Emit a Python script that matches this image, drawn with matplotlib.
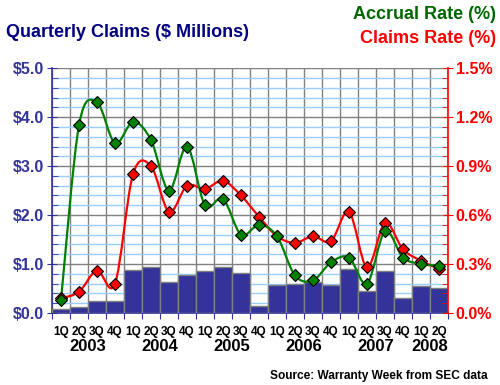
import matplotlib
matplotlib.use("Agg")
import matplotlib.pyplot as plt
from matplotlib.path import Path
from matplotlib.patches import PathPatch
import numpy as np

quarters = ["1Q", "2Q", "3Q", "4Q"] * 5 + ["1Q", "2Q"]
years = ["2003", "2004", "2005", "2006", "2007", "2008"]
year_pos = [1.5, 5.5, 9.5, 13.5, 17.5, 20.5]

# quarterly claims, $ millions
claims = [0.08, 0.12, 0.24, 0.24, 0.87, 0.93, 0.63, 0.77, 0.85, 0.93, 0.81,
          0.14, 0.57, 0.59, 0.63, 0.57, 0.89, 0.45, 0.86, 0.31, 0.55, 0.52]
# rates, percent
accrual_rate = [0.08, 1.15, 1.29, 1.04, 1.17, 1.06, 0.75, 1.02, 0.66, 0.70, 0.48,
                0.54, 0.47, 0.23, 0.20, 0.31, 0.34, 0.18, 0.50, 0.34, 0.30, 0.29]
claims_rate = [0.09, 0.13, 0.26, 0.18, 0.85, 0.90, 0.62, 0.78, 0.76, 0.81, 0.72,
               0.59, 0.47, 0.43, 0.47, 0.44, 0.62, 0.28, 0.55, 0.39, 0.32, 0.27]

NAVY = "#333399"
GREEN = "#008000"
RED = "#FF0000"

plt.rcParams['font.family'] = 'Liberation Sans'
plt.rcParams['font.weight'] = 'bold'


def smooth_path(xs, ys):
    # bezier curve through the points, like a spreadsheet "smoothed line"
    pts = np.column_stack([xs, ys]).astype(float)
    n = len(pts)
    verts = [pts[0]]
    codes = [Path.MOVETO]
    for i in range(n - 1):
        p0 = pts[i - 1] if i > 0 else pts[i]
        p1 = pts[i]
        p2 = pts[i + 1]
        p3 = pts[i + 2] if i + 2 < n else pts[i + 1]
        c1 = p1 + (p2 - p0) / 6.0
        c2 = p2 - (p3 - p1) / 6.0
        verts += [c1, c2, p2]
        codes += [Path.CURVE4] * 3
    return Path(verts, codes)


fig = plt.figure(figsize=(5, 3.85), dpi=100)
ax = fig.add_axes([0.104, 0.187, 0.792, 0.636])
ax2 = ax.twinx()

x = np.arange(len(claims))
ax.bar(x, claims, width=1.0, color=NAVY, edgecolor="#808080", linewidth=1, zorder=3)

ax.set_xlim(-0.5, len(claims) - 0.5)
ax.set_ylim(0, 5)
ax.set_yticks(np.arange(0, 5.01, 1))
ax.set_yticks(np.arange(0, 5.01, 0.2), minor=True)
ax.set_yticklabels(["$%.1f" % v for v in np.arange(0, 5.01, 1)])
ax.set_xticks(np.arange(-0.5, len(claims), 1))
ax.set_xticklabels([])
ax.grid(True, which="minor", axis="y", color="#99CCFF", linewidth=1, zorder=0)
ax.grid(True, which="major", axis="y", color="#808080", linewidth=1, zorder=1)
ax.grid(True, which="major", axis="x", color="#808080", linewidth=1, zorder=1)
ax.set_axisbelow(True)

ax.tick_params(axis="y", which="major", direction="inout", length=7, color=NAVY,
               labelcolor=NAVY, labelsize=11.5, pad=2)
ax.tick_params(axis="y", which="minor", direction="in", length=4, color=NAVY)
ax.tick_params(axis="x", direction="out", length=4, color=NAVY)

for s in ["top", "right"]:
    ax.spines[s].set_visible(False)
ax.spines["left"].set_color(NAVY)
ax.spines["bottom"].set_color(NAVY)
ax.spines["left"].set_linewidth(1.2)
ax.spines["bottom"].set_linewidth(1.2)

for i, q in enumerate(quarters):
    ax.text(i, -0.26, q, ha="center", va="top", fontsize=8.5, fontweight="bold")
for yp, yl in zip(year_pos, years):
    ax.text(yp, -0.54, yl, ha="center", va="top", fontsize=12, fontweight="bold")

# rates on the right axis
ax2.set_ylim(0, 1.5)
ax2.set_yticks(np.arange(0, 1.51, 0.3))
ax2.set_yticks(np.arange(0, 1.51, 0.06), minor=True)
ax2.set_yticklabels(["%.1f%%" % v for v in np.arange(0, 1.51, 0.3)])
ax2.tick_params(axis="y", which="major", direction="inout", length=7, color=RED,
                labelcolor=RED, labelsize=11.5, pad=2)
ax2.tick_params(axis="y", which="minor", direction="in", length=4, color=RED)
for s in ["top", "left", "bottom"]:
    ax2.spines[s].set_visible(False)
ax2.spines["right"].set_color(RED)
ax2.spines["right"].set_linewidth(1.2)

ax2.add_patch(PathPatch(smooth_path(x, claims_rate), facecolor="none",
                        edgecolor=RED, linewidth=1.6, zorder=4))
ax2.add_patch(PathPatch(smooth_path(x, accrual_rate), facecolor="none",
                        edgecolor=GREEN, linewidth=1.6, zorder=5))
ax2.plot(x, claims_rate, linestyle="none", marker="D", markersize=6,
         markerfacecolor=RED, markeredgecolor="black", markeredgewidth=0.8, zorder=6)
ax2.plot(x, accrual_rate, linestyle="none", marker="D", markersize=6,
         markerfacecolor=GREEN, markeredgecolor="black", markeredgewidth=0.8, zorder=7)

fig.text(0.012, 0.915, "Quarterly Claims ($ Millions)", color="#000080",
         fontsize=13, fontweight="bold", ha="left", va="center")
fig.text(0.992, 0.963, "Accrual Rate (%)", color="#006600",
         fontsize=13, fontweight="bold", ha="right", va="center")
fig.text(0.992, 0.9, "Claims Rate (%)", color=RED,
         fontsize=13, fontweight="bold", ha="right", va="center")
fig.text(0.976, 0.023, "Source: Warranty Week from SEC data", color="black",
         fontsize=8.6, fontweight="bold", ha="right", va="center")

fig.savefig("out.png", dpi=100)
